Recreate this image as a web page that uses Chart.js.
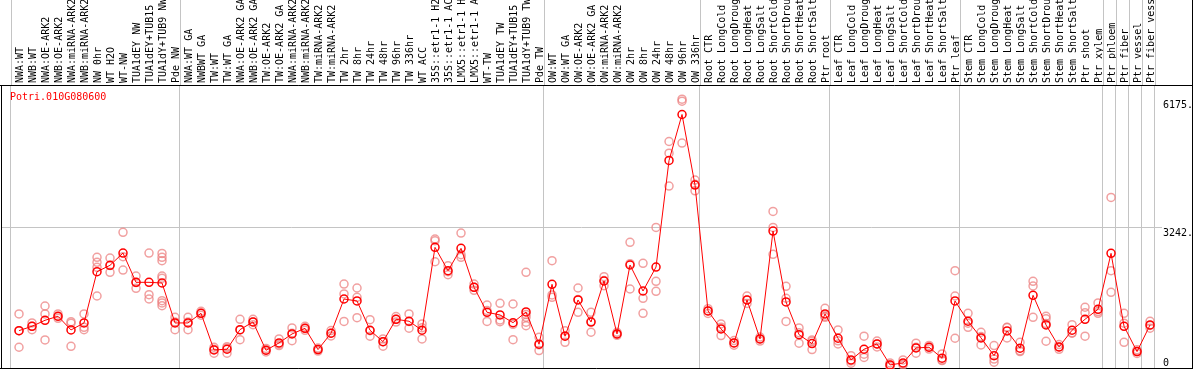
<!DOCTYPE html>
<html lang="en">
<head>
    <meta charset="UTF-8">
    <title>Potri.010G080600</title>
    <script src="https://cdn.jsdelivr.net/npm/chart.js"></script>
    <style>
        html, body { margin: 0; padding: 0; background: #fff; }
        #box { width: 1194px; height: 370px; }
    </style>
</head>
<body>
    <div id="box"><canvas id="myChart" width="1194" height="370"></canvas></div>

    <script>
        // sample names (top labels)
        var categories = [
            'NWA:WT', 'NWB:WT', 'NWA:OE-ARK2', 'NWB:OE-ARK2', 'NWA:miRNA-ARK2', 'NWB:miRNA-ARK2',
            'NW 0hr', 'WT H2O', 'WT-NW', 'TUA1dEY NW', 'TUA1dEY+TUB15', 'TUA1dY+TUB9 NW', 'Pde NW',
            'NWA:WT GA', 'NWBWT GA', 'TW:WT', 'TW:WT GA', 'NWA:OE-ARK2 GA', 'NWB:OE-ARK2 GA',
            'TW:OE-ARK2', 'TW:OE-ARK2 GA', 'NWA:miRNA-ARK2', 'NWB:miRNA-ARK2', 'TW:miRNA-ARK2',
            'TW:miRNA-ARK2', 'TW 2hr', 'TW 8hr', 'TW 24hr', 'TW 48hr', 'TW 96hr', 'TW 336hr',
            'WT ACC', '35S::etr1-1 H2', '35S::etr1-1 AC', 'LMX5::etr1-1 H', 'LMX5::etr1-1 A',
            'WT-TW', 'TUA1dEY TW', 'TUA1dEY+TUB15', 'TUA1dY+TUB9 TW', 'Pde TW',
            'OW:WT', 'OW:WT GA', 'OW:OE-ARK2', 'OW:OE-ARK2 GA', 'OW:miRNA-ARK2', 'OW:miRNA-ARK2',
            'OW 2hr', 'OW 8hr', 'OW 24hr', 'OW 48hr', 'OW 96hr', 'OW 336hr',
            'Root CTR', 'Root LongCold', 'Root LongDroug', 'Root LongHeat', 'Root LongSalt',
            'Root ShortCold', 'Root ShortDrou', 'Root ShortHeat', 'Root ShortSalt', 'Ptr root',
            'Leaf CTR', 'Leaf LongCold', 'Leaf LongDroug', 'Leaf LongHeat', 'Leaf LongSalt',
            'Leaf ShortCold', 'Leaf ShortDrou', 'Leaf ShortHeat', 'Leaf ShortSalt', 'Ptr leaf',
            'Stem CTR', 'Stem LongCold', 'Stem LongDroug', 'Stem LongHeat', 'Stem LongSalt',
            'Stem ShortCold', 'Stem ShortDrou', 'Stem ShortHeat', 'Stem ShortSalt',
            'Ptr shoot', 'Ptr xylem', 'Ptr phloem', 'Ptr fiber', 'Ptr vessel', 'Ptr fiber vess'
        ];

        // mean expression (red line)
        var means = [
            878, 978, 1115, 1207, 894, 1054, 2227, 2373, 2654, 1984, 1984, 1968, 1054,
            1054, 1275, 437, 452, 901, 1077, 429, 597, 802, 932, 444, 818, 1602, 1557,
            887, 626, 1138, 1093, 887, 2784, 2250, 2761, 1870, 1298, 1237, 1061, 1305, 567,
            1938, 750, 1580, 1075, 2014, 802, 2380, 1785, 2334, 4773, 5825, 4209,
            1328, 917, 597, 1580, 688, 3157, 1534, 786, 581, 1260,
            704, 208, 452, 574, 94, 139, 482, 498, 247, 1557,
            1093, 711, 306, 871, 475, 1687, 1008, 505, 887,
            1138, 1367, 2647, 978, 398, 1008
        ];

        // single replicates (pink circles)
        var replicates = [
            [1260, 876, 498], [1054, 979, 901], [1442, 1260, 665], [1260, 1200, 1160],
            [1084, 1046, 520], [1260, 955, 901], [2555, 2441, 2327, 1671], [2540, 2366, 2213],
            [3127, 2570, 2265], [2128, 1977, 1847], [2654, 1701, 1602],
            [2646, 2555, 2478, 2128, 2075, 1564, 1511, 1449], [1184, 1077, 901],
            [1184, 1077, 901], [1320, 1275, 1230], [498, 452, 361], [512, 483, 361],
            [1138, 893, 672], [1138, 1078, 1015], [470, 429, 390], [688, 567, 536],
            [940, 817, 649], [978, 932, 886], [480, 444, 410], [880, 818, 756],
            [1945, 1717, 1090], [1854, 1641, 1174], [1129, 878, 750], [688, 626, 521],
            [1200, 1138, 1075], [1260, 1086, 933], [1031, 942, 688], [2974, 2935, 2455],
            [2364, 2228, 2158], [3111, 2617, 2555], [1945, 1870, 1800], [1465, 1339, 1090],
            [1504, 1123, 1084], [1488, 1023, 672], [2213, 1250, 1184, 1070, 992],
            [727, 553, 421], [2478, 1695, 1641], [878, 761, 611], [1854, 1588, 1298],
            [1298, 1086, 841], [2112, 2024, 1906], [840, 802, 770], [2899, 2410, 1831],
            [2419, 1618, 1275], [3241, 2007, 1778], [5207, 4940, 4186], [6175, 6130, 5170],
            [4323, 4226, 4078], [1380, 1328, 1270], [1031, 956, 764], [650, 597, 545],
            [1670, 1580, 1500], [730, 688, 640], [3607, 3241, 2624], [1893, 1619, 1090],
            [940, 828, 590], [665, 634, 444], [1390, 1206, 1184], [894, 644, 574],
            [306, 185, 133], [750, 340, 266], [640, 574, 505], [140, 94, 50],
            [208, 115, 94], [590, 495, 361], [540, 498, 456], [345, 204, 192],
            [2250, 1671, 704], [1275, 1049, 955], [841, 741, 551], [536, 227, 155],
            [955, 947, 711], [611, 416, 398], [2007, 1900, 1184], [1207, 1150, 1040, 635],
            [560, 505, 450], [1015, 828, 818], [1413, 1289, 750], [1511, 1315, 1275],
            [3927, 2250, 1756], [1275, 1048, 611], [440, 398, 355], [1093, 998, 933]
        ];

        // group separators (in category units) and right axis ticks
        var separators = [-0.63, 12.37, 40.37, 52.37, 62.37, 72.37, 83.37, 84.37, 85.37, 86.37, 87.37];
        var yTicks = [0, 3242, 6175];
        var yTickLabels = ['0', '3242.', '6175.'];
        var geneName = 'Potri.010G080600';

        var monoFont = { family: "'DejaVu Sans Mono', monospace", size: 10 };
        var gridGray = '#c4c4c4';

        var meanPoints = means.map(function (v, i) { return { x: i, y: v }; });
        var repPoints = [];
        replicates.forEach(function (reps, i) {
            reps.forEach(function (v) { repPoints.push({ x: i, y: v }); });
        });

        // no extra room for overflowing labels, the frame is fixed
        function noPadding(scale) {
            scale.paddingLeft = 0;
            scale.paddingRight = 0;
            scale.paddingTop = 0;
            scale.paddingBottom = 0;
        }

        // frame, separators through the label strip and the gene name
        var framePlugin = {
            id: 'frame',
            beforeDatasetsDraw: function (chart) {
                var ctx = chart.ctx, a = chart.chartArea, xs = chart.scales.x;
                var right = chart.width - 1.5;
                ctx.save();
                ctx.strokeStyle = gridGray;
                ctx.lineWidth = 1;
                separators.forEach(function (s) {
                    var px = Math.round(xs.getPixelForValue(s)) + 0.5;
                    ctx.beginPath();
                    ctx.moveTo(px, 0);
                    ctx.lineTo(px, a.top);
                    ctx.stroke();
                });
                ctx.strokeStyle = '#000';
                ctx.beginPath();
                ctx.moveTo(0, Math.round(a.top) + 0.5);
                ctx.lineTo(right, Math.round(a.top) + 0.5);
                ctx.moveTo(right, 0);
                ctx.lineTo(right, a.bottom);
                ctx.moveTo(0, Math.round(a.bottom) - 0.5);
                ctx.lineTo(right, Math.round(a.bottom) - 0.5);
                ctx.moveTo(Math.round(a.left) + 0.5, a.top);
                ctx.lineTo(Math.round(a.left) + 0.5, a.bottom);
                ctx.stroke();
                ctx.fillStyle = '#ff0000';
                ctx.font = "10px 'DejaVu Sans Mono', monospace";
                ctx.textBaseline = 'alphabetic';
                ctx.fillText(geneName, a.left + 9, a.top + 15);
                ctx.restore();
            }
        };

        var xMin = -1.385, xMax = 87.92;

        new Chart(document.getElementById('myChart').getContext('2d'), {
            type: 'scatter',
            data: {
                datasets: [{
                    label: geneName,
                    data: meanPoints,
                    showLine: true,
                    borderColor: '#ff0000',
                    borderWidth: 1,
                    pointRadius: 4,
                    pointBorderWidth: 1.5,
                    pointBorderColor: '#ff0000',
                    pointBackgroundColor: 'rgba(255,255,255,0)',
                    xAxisID: 'x',
                    yAxisID: 'y'
                }, {
                    label: 'replicates',
                    data: repPoints,
                    showLine: false,
                    pointRadius: 4,
                    pointBorderWidth: 1.5,
                    pointBorderColor: 'rgba(236,128,128,0.75)',
                    pointBackgroundColor: 'rgba(255,255,255,0)',
                    xAxisID: 'x',
                    yAxisID: 'y'
                }]
            },
            options: {
                responsive: false,
                animation: false,
                devicePixelRatio: 1,
                layout: { autoPadding: false, padding: { left: 1, right: 0, top: 0, bottom: 0 } },
                plugins: {
                    legend: { display: false },
                    tooltip: { enabled: false }
                },
                scales: {
                    x: {
                        type: 'linear',
                        position: 'bottom',
                        min: xMin,
                        max: xMax,
                        afterBuildTicks: function (scale) {
                            scale.ticks = separators.map(function (v) { return { value: v }; });
                        },
                        afterFit: function (scale) { scale.height = 1; noPadding(scale); },
                        ticks: { display: false },
                        grid: { color: gridGray, drawTicks: false, lineWidth: 1 },
                        border: { display: false }
                    },
                    xTop: {
                        type: 'linear',
                        position: 'top',
                        min: xMin,
                        max: xMax,
                        afterBuildTicks: function (scale) {
                            scale.ticks = categories.map(function (c, i) { return { value: i }; });
                        },
                        afterFit: function (scale) { scale.height = 85; noPadding(scale); },
                        ticks: {
                            autoSkip: false,
                            minRotation: 90,
                            maxRotation: 90,
                            padding: 2,
                            labelOffset: 13,
                            color: '#000',
                            font: monoFont,
                            callback: function (v, i) { return categories[i]; }
                        },
                        grid: { display: false, drawTicks: false },
                        border: { display: false }
                    },
                    y: {
                        type: 'linear',
                        position: 'right',
                        min: 0,
                        max: 6500,
                        afterBuildTicks: function (scale) {
                            scale.ticks = yTicks.map(function (v) { return { value: v }; });
                        },
                        afterFit: function (scale) { scale.width = 32; noPadding(scale); },
                        ticks: {
                            padding: 1,
                            crossAlign: 'near',
                            labelOffset: 6,
                            color: '#000',
                            font: monoFont,
                            callback: function (v, i) {
                                // lift the zero label above the bottom frame
                                return v === 0 ? [yTickLabels[i], '', ''] : yTickLabels[i];
                            }
                        },
                        grid: {
                            drawTicks: false,
                            color: function (c) { return c.tick && c.tick.value === 3242 ? gridGray : 'rgba(0,0,0,0)'; }
                        },
                        border: { display: false }
                    }
                }
            },
            plugins: [framePlugin]
        });
    </script>
</body>
</html>
